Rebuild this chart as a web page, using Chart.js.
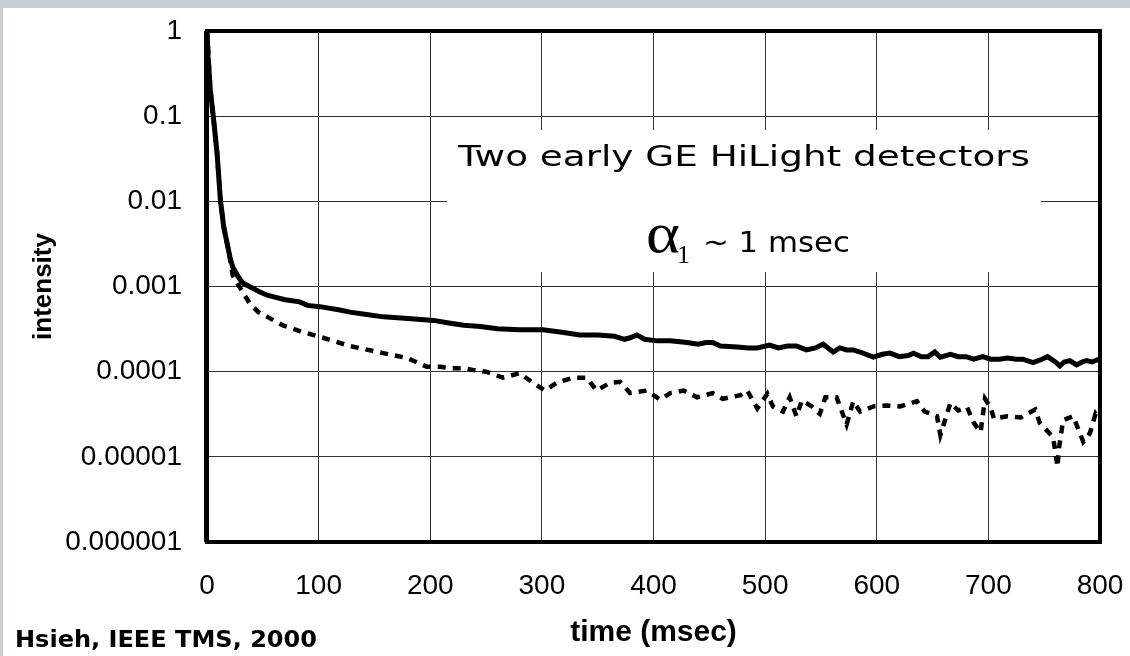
<!DOCTYPE html>
<html>
<head>
<meta charset="utf-8">
<script src="https://cdn.jsdelivr.net/npm/chart.js@4.4.0/dist/chart.umd.min.js"></script>
<style>
  html, body { margin: 0; padding: 0; background: #ffffff; }
  #wrap { width: 1130px; height: 656px; }
</style>
</head>
<body>
<div id="wrap"><canvas id="myChart" width="1130" height="656"></canvas></div>
<script>
// detector 1 (solid line) - time in msec, intensity
const solidT = [0, 1, 3, 5.6, 9, 12, 15, 20.6, 23, 28, 32, 38, 46, 54, 59, 70, 83, 90, 101, 119, 128, 143, 158, 180, 203, 218, 230, 245, 260, 280, 301, 318, 334, 350, 365, 374, 379, 385, 392, 403, 415, 430, 440, 447, 453, 460, 475, 485, 493, 504, 512, 520, 528, 537, 545, 552, 561, 567, 573, 579, 585, 597, 605, 612, 620, 628, 633, 640, 646, 652, 657, 666, 673, 680, 687, 695, 702, 710, 717, 725, 731, 740, 748, 753, 760, 764, 768, 773, 779, 784, 788, 793, 798, 800];
const solidV = [1, 0.5, 0.2, 0.1, 0.037, 0.0104, 0.005, 0.0022, 0.0017, 0.0013, 0.0011, 0.001, 0.00088, 0.00079, 0.00076, 0.0007, 0.00066, 0.0006, 0.00058, 0.00053, 0.0005, 0.00047, 0.00044, 0.00042, 0.0004, 0.00037, 0.00035, 0.00034, 0.00032, 0.00031, 0.00031, 0.00029, 0.00027, 0.00027, 0.00026, 0.00024, 0.00025, 0.00027, 0.00024, 0.00023, 0.00023, 0.00022, 0.00021, 0.00022, 0.00022, 0.0002, 0.000195, 0.00019, 0.00019, 0.000205, 0.00019, 0.0002, 0.0002, 0.00018, 0.00019, 0.00021, 0.00017, 0.00019, 0.00018, 0.00018, 0.00017, 0.000148, 0.00016, 0.000165, 0.00015, 0.000155, 0.000165, 0.00015, 0.00015, 0.00017, 0.000148, 0.00016, 0.00015, 0.00015, 0.00014, 0.00015, 0.00014, 0.00014, 0.000145, 0.00014, 0.00014, 0.000128, 0.00014, 0.00015, 0.00013, 0.000117, 0.00013, 0.000135, 0.00012, 0.00013, 0.000135, 0.00013, 0.000138, 0.000135];

// detector 2 (dashed line)
const dashT = [0, 3, 5.6, 9, 12, 15, 20, 23, 31, 38, 46, 54, 68, 83, 104, 128, 158, 179, 197, 209, 220, 230, 238, 250, 265, 280, 292, 303, 313, 328, 340, 349, 361, 370, 379, 394, 406, 415, 427, 439, 453, 462, 478, 484, 493, 502, 507, 516, 522, 528, 533, 542, 549, 554, 564, 573, 579, 585, 597, 609, 621, 636, 643, 654, 657, 666, 673, 681, 687, 693, 697, 702, 705, 717, 729, 742, 746, 758, 762, 763, 767, 776, 785, 791, 796, 800];
const dashV = [1, 0.2, 0.1, 0.037, 0.0104, 0.005, 0.0024, 0.00136, 0.0009, 0.00064, 0.0005, 0.00044, 0.00035, 0.0003, 0.00025, 0.0002, 0.000165, 0.000145, 0.000114, 0.000114, 0.00011, 0.00011, 0.000105, 0.0001, 0.000085, 0.000096, 0.000074, 0.00006, 0.000074, 0.000085, 0.000085, 0.00006, 0.000074, 0.000076, 0.000056, 0.00006, 0.000047, 0.000056, 0.00006, 0.00005, 0.000056, 0.000048, 0.000053, 0.00006, 0.000037, 0.000055, 0.000039, 0.000034, 0.00005, 0.00003, 0.000046, 0.000039, 0.000032, 0.00005, 0.00005, 0.000024, 0.000045, 0.000034, 0.000039, 0.00004, 0.000039, 0.000045, 0.000034, 0.00003, 0.000018, 0.000043, 0.000035, 0.000038, 0.000025, 0.0000195, 0.000048, 0.000038, 0.000028, 0.00003, 0.000029, 0.000036, 0.000025, 0.000017, 0.0000076, 0.000012, 0.000027, 0.00003, 0.000015, 0.000019, 0.000032, 0.000027];

const xTicks = [0, 100, 200, 300, 400, 500, 600, 700, 800];
const yTicks = [1, 0.1, 0.01, 0.001, 0.0001, 0.00001, 0.000001];
const yTickLabels = ['1', '0.1', '0.01', '0.001', '0.0001', '0.00001', '0.000001'];

const toPoints = (ts, vs) => ts.map((t, i) => ({ x: t, y: vs[i] }));

// fill text squeezed/stretched to a given width
function fitText(c, txt, x, y, w) {
  const m = c.measureText(txt).width;
  c.save();
  c.translate(x, y);
  c.scale(w / m, 1);
  c.fillText(txt, 0, 0);
  c.restore();
}

// label padding would otherwise push the plot area in
function noPad(s) {
  s.paddingTop = 0;
  s.paddingBottom = 0;
  s.paddingLeft = 0;
  s.paddingRight = 0;
}

const decor = {
  id: 'decor',
  beforeDraw(chart) {
    const c = chart.ctx;
    c.save();
    c.fillStyle = '#c9ccd1';
    c.fillRect(0, 0, chart.width, chart.height);
    c.fillStyle = '#ffffff';
    c.fillRect(3, 8, chart.width - 3, chart.height - 8);
    c.restore();
  },
  beforeDatasetsDraw(chart) {
    // white box behind the note, hides the grid there
    const c = chart.ctx;
    c.save();
    c.fillStyle = '#ffffff';
    c.fillRect(447, 130, 594, 142);
    c.restore();
  },
  afterDatasetsDraw(chart) {
    const c = chart.ctx;
    const a = chart.chartArea;
    c.save();
    c.strokeStyle = '#000';
    c.lineWidth = 4;
    c.strokeRect(a.left, a.top, a.right - a.left, a.bottom - a.top);
    c.fillRect(a.left - 3, a.top, 4, a.bottom - a.top);

    c.fillStyle = '#000';
    c.textBaseline = 'alphabetic';
    c.textAlign = 'left';
    c.font = '28px "DejaVu Sans"';
    fitText(c, 'Two early GE HiLight detectors', 458, 166, 572);

    c.font = '56px "Liberation Serif"';
    fitText(c, '\u03b1', 646, 252, 34);
    c.font = '26px "Liberation Serif"';
    c.fillText('1', 677, 263);
    c.font = '28px "DejaVu Sans"';
    fitText(c, '~ 1 msec', 703, 252, 147);

    c.font = 'bold 23px "DejaVu Sans"';
    fitText(c, 'Hsieh, IEEE TMS, 2000', 15, 647, 302);
    c.restore();
  }
};

const ctx = document.getElementById('myChart').getContext('2d');
const myChart = new Chart(ctx, {
  type: 'line',
  data: {
    datasets: [{
      label: 'detector 1',
      data: toPoints(solidT, solidV),
      borderColor: '#000',
      borderWidth: 5,
      pointRadius: 0,
      tension: 0
    }, {
      label: 'detector 2',
      data: toPoints(dashT, dashV),
      borderColor: '#000',
      borderWidth: 4.5,
      borderDash: [8, 7],
      pointRadius: 0,
      tension: 0
    }]
  },
  options: {
    responsive: false,
    animation: false,
    layout: { padding: { left: 0, top: 31, right: 30, bottom: 0 } },
    plugins: {
      legend: { display: false },
      tooltip: { enabled: false }
    },
    scales: {
      x: {
        type: 'linear',
        min: 0,
        max: 800,
        afterBuildTicks: (s) => { s.ticks = xTicks.map(v => ({ value: v })); },
        afterFit: (s) => { s.height = 114; noPad(s); },
        ticks: {
          color: '#000',
          font: { family: 'Liberation Sans', size: 28 },
          padding: 27,
          maxRotation: 0
        },
        grid: { color: '#333', lineWidth: 1, drawTicks: false },
        border: { display: false },
        title: {
          display: true,
          text: 'time (msec)',
          color: '#000',
          font: { family: 'Liberation Sans', size: 30, weight: 'bold' },
          padding: { top: 0, bottom: 5 }
        }
      },
      y: {
        type: 'logarithmic',
        min: 0.000001,
        max: 1,
        afterBuildTicks: (s) => { s.ticks = yTicks.map(v => ({ value: v })); },
        afterFit: (s) => { s.width = 207; noPad(s); },
        ticks: {
          color: '#000',
          font: { family: 'Liberation Sans', size: 28 },
          padding: 25,
          callback: (value) => yTickLabels[yTicks.indexOf(value)]
        },
        grid: { color: '#333', lineWidth: 1, drawTicks: false },
        border: { display: false },
        title: {
          display: true,
          text: 'intensity',
          color: '#000',
          font: { family: 'Liberation Sans', size: 26, weight: 'bold' },
          padding: { top: 28, bottom: 0 }
        }
      }
    }
  },
  plugins: [decor]
});
</script>
</body>
</html>
